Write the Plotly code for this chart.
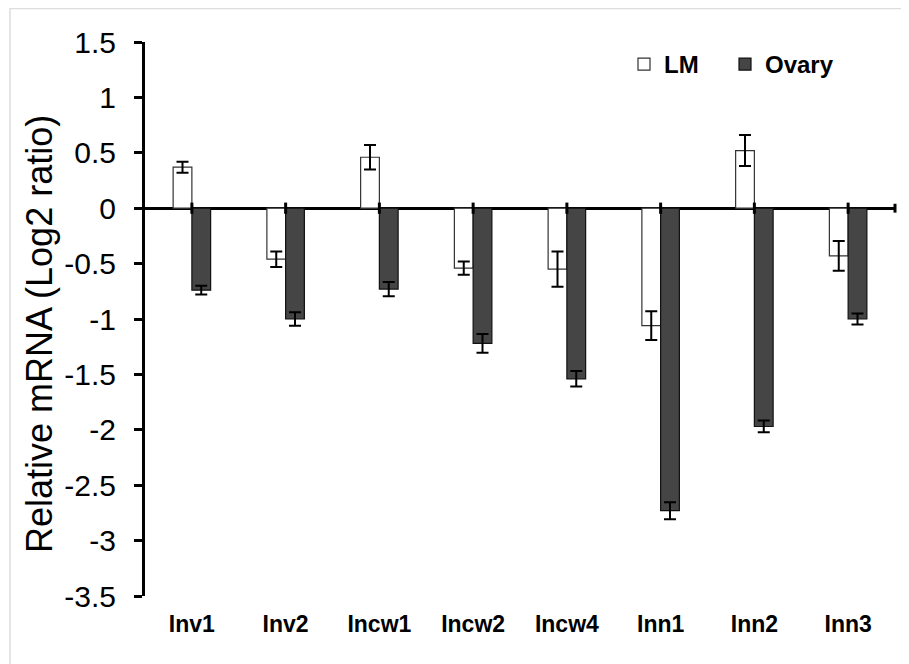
import plotly.graph_objects as go

categories = ["Inv1", "Inv2", "Incw1", "Incw2", "Incw4", "Inn1", "Inn2", "Inn3"]
lm_values = [0.37, -0.46, 0.46, -0.54, -0.55, -1.06, 0.52, -0.43]
lm_errors = [0.05, 0.07, 0.11, 0.06, 0.16, 0.13, 0.14, 0.135]
ovary_values = [-0.74, -1.00, -0.73, -1.22, -1.54, -2.73, -1.97, -1.00]
ovary_errors = [0.04, 0.06, 0.065, 0.085, 0.07, 0.077, 0.053, 0.05]
ytick_vals = [1.5, 1, 0.5, 0, -0.5, -1, -1.5, -2, -2.5, -3, -3.5]
ytick_text = ["1.5", "1", "0.5", "0", "-0.5", "-1", "-1.5", "-2", "-2.5", "-3", "-3.5"]
y_title = "Relative mRNA (Log2 ratio)"

FONT = "Liberation Sans, Arial, sans-serif"
# page body has an 8px margin; plot area should sit at x 145..895, y 42..596 on screen
ML, MT = 137, 34
PW, PH = 750, 554
W, H = 901, 656

fig = go.Figure()
fig.add_trace(go.Bar(
    name="LM", x=categories, y=lm_values, legend="legend",
    marker=dict(color="white", line=dict(color="#333333", width=1.2)),
    error_y=dict(type="data", array=lm_errors, color="black", thickness=2, width=6),
))
fig.add_trace(go.Bar(
    name="Ovary", x=categories, y=ovary_values, legend="legend2",
    marker=dict(color="#454545", line=dict(color="#111111", width=1.2)),
    error_y=dict(type="data", array=ovary_errors, color="black", thickness=2, width=6),
))
# small tick marks on the zero line at category centres
fig.add_trace(go.Scatter(
    x=categories, y=[0] * len(categories), mode="markers", showlegend=False,
    hoverinfo="skip",
    marker=dict(symbol="line-ns", size=8, line=dict(color="black", width=3)),
))

def px_x(sx):
    return (sx - 8 - ML) / PW

def px_y(sy):
    return (8 + MT + PH - sy) / PH

legend_font = dict(family=FONT, size=24, weight="bold", color="black")
fig.update_layout(
    width=W, height=H,
    margin=dict(l=ML, r=W - ML - PW, t=MT, b=H - MT - PH),
    paper_bgcolor="white", plot_bgcolor="white",
    barmode="group", bargap=0.6, bargroupgap=0,
    font=dict(family=FONT, color="black"),
    showlegend=True,
    legend=dict(x=px_x(624), y=px_y(42), xanchor="left", yanchor="top",
                font=legend_font, bgcolor="rgba(0,0,0,0)"),
    legend2=dict(x=px_x(725), y=px_y(42), xanchor="left", yanchor="top",
                 font=legend_font, bgcolor="rgba(0,0,0,0)"),
    xaxis=dict(
        type="category", showline=False, showgrid=False, ticks="",
        tickfont=dict(family=FONT, size=23, weight="bold", color="black"),
        ticklabelstandoff=12, zeroline=False,
    ),
    yaxis=dict(
        range=[-3.5, 1.5], tickvals=ytick_vals, ticktext=ytick_text,
        showline=True, linecolor="black", linewidth=3,
        ticks="outside", ticklen=8, tickwidth=3, tickcolor="black",
        showgrid=False, zeroline=True, zerolinecolor="black", zerolinewidth=3,
        tickfont=dict(family=FONT, size=30, color="black"),
        ticklabelstandoff=12,
    ),
    annotations=[
        dict(text=y_title, textangle=-90, xref="paper", yref="paper",
             x=px_x(40), y=px_y(334), xanchor="center", yanchor="middle",
             showarrow=False, font=dict(family=FONT, size=36, color="black")),
    ],
    shapes=[
        dict(type="line", xref="paper", yref="y", x0=1, x1=1, y0=-0.04, y1=0.04,
             line=dict(color="black", width=3)),
        dict(type="rect", xref="paper", yref="paper",
             x0=px_x(10), x1=1.2, y0=-0.3, y1=px_y(8.5),
             line=dict(color="#dddddd", width=1.5), layer="below"),
    ],
)

fig.write_html("out.html")
